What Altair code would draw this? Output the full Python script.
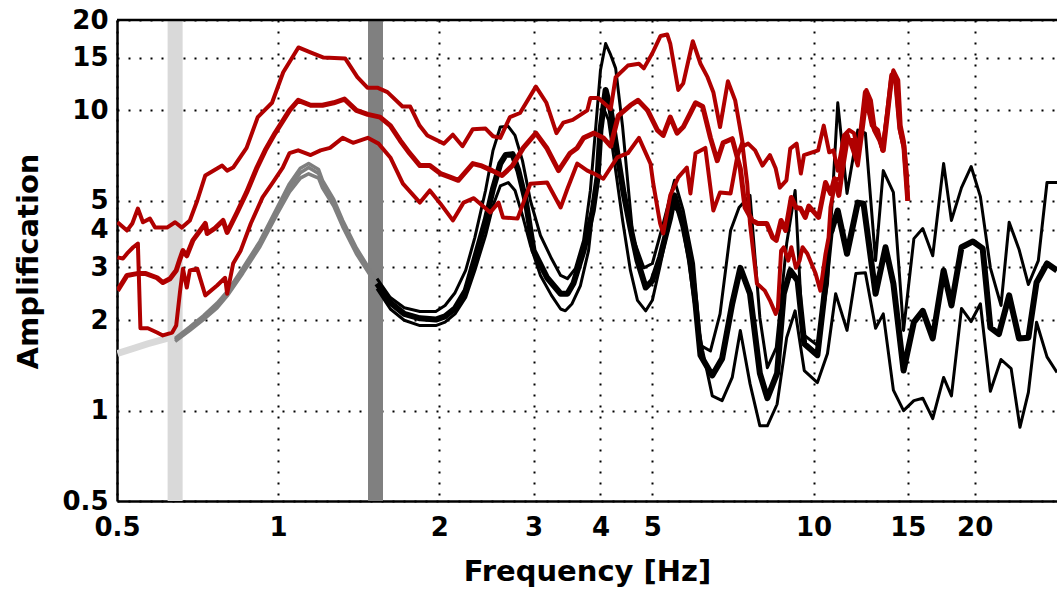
import altair as alt
import pandas as pd

X_TICKS = [0.5, 1, 2, 3, 4, 5, 10, 15, 20]
Y_TICKS = [0.5, 1, 2, 3, 4, 5, 10, 15, 20]
X_DOMAIN = [0.5, 28.5]
Y_DOMAIN = [0.5, 20]

BAND_F = [0.642, 1.52]

# light-gray theoretical curve (low frequencies)
LG_F = [0.501, 0.536, 0.571, 0.620, 0.645]
LG_A = [1.55, 1.61, 1.67, 1.74, 1.76]

# dark-gray theoretical curves
G_F = [0.642, 0.684, 0.725, 0.769, 0.803, 0.859, 0.925, 0.996, 1.05, 1.10, 1.14,
       1.19, 1.21, 1.27, 1.32, 1.40, 1.49, 1.53]
G_UP = [1.74, 1.90, 2.07, 2.28, 2.49, 2.98, 3.67, 4.75, 5.70, 6.42, 6.65,
        6.35, 5.85, 5.05, 4.30, 3.48, 2.91, 2.72]
G_MID = [1.72, 1.88, 2.04, 2.24, 2.45, 2.93, 3.60, 4.64, 5.53, 6.20, 6.45,
         6.16, 5.70, 4.93, 4.20, 3.41, 2.86, 2.67]
G_LO = [1.70, 1.85, 2.01, 2.20, 2.41, 2.87, 3.52, 4.52, 5.35, 5.95, 6.15,
        5.95, 5.52, 4.80, 4.10, 3.33, 2.80, 2.62]

# black curves
BU_F = [1.53, 1.62, 1.72, 1.84, 1.97, 2.05, 2.14, 2.24, 2.33, 2.44, 2.52, 2.60, 2.69,
        2.77, 2.86, 2.96, 3.09, 3.24, 3.37, 3.47, 3.59, 3.72, 3.83, 3.93, 4.00, 4.09,
        4.18, 4.27, 4.40, 4.60, 4.82, 5.00, 5.24, 5.50, 5.71, 5.97, 6.15, 6.42, 6.69,
        7.00, 7.26, 7.61, 7.94, 8.20, 8.52, 8.91, 9.24, 9.54, 10.17, 10.62, 11.1,
        11.55, 12.1, 12.5, 13.06, 13.5, 14.1, 14.73, 15.4, 16.0, 16.7, 17.5, 18.1,
        18.9, 19.7, 20.5, 21.4, 22.4, 23.2, 24.2, 25.2, 26.3, 27.3, 28.5]
BU_A = [2.75, 2.38, 2.20, 2.14, 2.14, 2.24, 2.47, 2.93, 3.77, 5.41, 7.36, 8.80, 8.85,
        8.25, 6.80, 5.00, 3.83, 3.21, 2.82, 2.75, 2.97, 3.69, 5.41, 9.30, 13.6, 16.7,
        15.3, 13.8, 8.80, 3.77, 2.99, 3.09, 4.20, 5.85, 4.64, 3.09, 1.65, 1.58, 2.10,
        3.98, 4.75, 5.21, 2.04, 1.39, 1.62, 3.60, 5.41, 1.80, 1.65, 2.65, 10.6,
        5.29, 8.60, 8.40, 3.16, 6.30, 5.33, 1.85, 3.74, 4.04, 3.28, 6.65, 4.30,
        5.53, 6.50, 5.16, 2.99, 2.24, 4.24, 3.45, 2.63, 3.16, 5.75, 5.75]

BM_F = [1.53, 1.62, 1.72, 1.84, 1.97, 2.05, 2.14, 2.24, 2.33, 2.44, 2.52, 2.60, 2.66,
        2.74, 2.81, 2.90, 3.00, 3.18, 3.37, 3.47, 3.56, 3.72, 3.87, 3.95, 4.00, 4.09,
        4.18, 4.30, 4.42, 4.55, 4.69, 4.86, 5.00, 5.17, 5.40, 5.50, 5.71, 5.89, 6.02,
        6.15, 6.47, 6.75, 7.05, 7.30, 7.61, 7.94, 8.20, 8.55, 8.80, 9.05, 9.34, 9.61,
        10.17, 10.45, 10.76, 11.1, 11.55, 12.1, 12.4, 13.06, 13.63, 14.1, 14.73, 15.4,
        16.0, 16.7, 17.5, 18.1, 18.9, 19.85, 20.7, 21.4, 22.2, 23.2, 24.2, 25.2, 26.1,
        27.3, 28.5]
BM_A = [2.65, 2.29, 2.10, 2.03, 2.01, 2.06, 2.19, 2.51, 3.21, 4.30, 5.49, 6.65, 7.10,
        7.15, 6.30, 5.00, 3.41, 2.77, 2.45, 2.45, 2.65, 3.41, 4.64, 5.98, 8.60, 11.7,
        10.0, 7.20, 5.29, 4.07, 3.16, 2.57, 2.71, 3.24, 4.40, 5.21, 4.13, 3.16, 2.27,
        1.53, 1.31, 1.49, 2.27, 2.99, 2.45, 1.33, 1.10, 1.33, 2.45, 2.93, 2.71, 1.67,
        1.53, 2.33, 3.89, 4.64, 3.33, 4.93, 4.89, 2.45, 3.50, 2.65, 1.36, 1.97,
        2.15, 1.74, 2.93, 2.24, 3.50, 3.66, 3.47, 1.89, 1.80, 2.42, 1.74, 1.75, 2.67,
        3.09, 2.93]

BL_F = [1.53, 1.62, 1.72, 1.84, 1.97, 2.05, 2.14, 2.24, 2.33, 2.44, 2.52, 2.60, 2.69,
        2.77, 2.86, 2.96, 3.09, 3.24, 3.37, 3.44, 3.54, 3.67, 3.80, 3.91, 4.00, 4.05,
        4.14, 4.27, 4.40, 4.55, 4.69, 4.86, 5.00, 5.17, 5.36, 5.48, 5.65, 5.84, 6.02,
        6.21, 6.47, 6.75, 7.05, 7.30, 7.61, 7.94, 8.20, 8.55, 8.91, 9.24, 9.61, 10.17,
        10.62, 11.0, 11.55, 12.0, 12.5, 13.06, 13.5, 14.1, 14.73, 15.4, 16.0, 16.7,
        17.5, 18.1, 18.9, 19.7, 20.5, 21.4, 22.4, 23.4, 24.3, 25.2, 26.1, 27.3, 28.5]
BL_A = [2.55, 2.18, 2.00, 1.92, 1.92, 1.97, 2.10, 2.38, 2.93, 3.83, 4.82, 5.60, 5.75,
        5.41, 4.47, 3.55, 2.82, 2.42, 2.18, 2.15, 2.27, 2.61, 3.41, 5.41, 7.94, 10.2,
        9.30, 6.30, 4.30, 2.93, 2.33, 2.15, 2.33, 3.04, 4.13, 4.82, 4.47, 3.16, 2.15,
        1.58, 1.12, 1.08, 1.29, 1.85, 1.23, 0.89, 0.89, 1.05, 1.75, 2.15, 1.36, 1.24,
        1.55, 2.45, 1.85, 2.86, 2.88, 1.88, 2.10, 1.17, 1.00, 1.08, 1.10, 0.94,
        1.29, 1.12, 2.19, 1.98, 2.27, 1.16, 1.48, 1.38, 0.88, 1.15, 1.97, 1.51, 1.34]

# red measured curves
R1_F = [0.501, 0.522, 0.534, 0.547, 0.559, 0.576, 0.589, 0.620, 0.642, 0.661, 0.684,
        0.706, 0.731, 0.786, 0.803, 0.824, 0.873, 0.916, 0.974, 1.022, 1.091, 1.149,
        1.216, 1.334, 1.406, 1.468, 1.532, 1.60, 1.707, 1.765, 1.837, 1.90, 2.04,
        2.12, 2.21, 2.31, 2.44, 2.52, 2.60, 2.71, 2.83, 3.03, 3.17, 3.31, 3.41, 3.55,
        3.78, 3.83, 3.96, 4.18, 4.27, 4.50, 4.72, 4.82, 5.00, 5.18, 5.33, 5.40, 5.59,
        5.71, 5.95, 6.15, 6.34, 6.50, 6.69, 6.92, 7.14, 7.39, 7.55, 7.78, 8.03, 8.29,
        8.50, 8.65, 8.90, 9.05, 9.30, 9.47, 9.60, 10.2, 10.45, 10.7, 10.9, 11.1, 11.4,
        11.65, 11.9, 12.1, 12.35, 12.55, 12.8, 13.0, 13.2, 13.45, 13.7, 13.95, 14.1,
        14.4, 14.55, 14.75, 14.95, 15.0]
R1_A = [4.24, 3.98, 4.20, 4.71, 4.24, 4.36, 4.07, 4.07, 4.24, 4.07, 4.30,
        5.00, 6.07, 6.55, 6.30, 6.45, 7.50, 9.50, 10.6, 13.4, 16.2, 15.6,
        15.0, 14.9, 12.9, 11.9, 11.9, 11.5, 10.3, 10.3, 8.90, 8.25, 7.75,
        8.30, 7.60, 8.66, 8.70, 8.20, 8.10, 9.50, 9.80, 12.0, 10.6, 8.40, 9.10, 9.30,
        10.0, 11.0, 11.0, 10.1, 12.9, 14.1, 14.3, 13.8, 15.5, 17.7, 17.9, 16.7, 11.7,
        12.3, 17.0, 14.3, 12.9, 11.5, 8.80, 12.5, 10.8, 7.60, 7.75, 7.36, 6.55, 7.10,
        6.40, 5.53, 5.85, 7.46, 7.75, 6.16, 7.10, 7.36, 8.90, 7.25, 7.36, 6.30, 8.25,
        8.60, 8.40, 7.36, 9.30, 11.7, 10.8, 8.80, 8.60, 7.36, 9.60, 12.6, 13.6,
        12.6, 8.90, 7.90, 6.07, 5.00]

R2_F = [0.501, 0.522, 0.545, 0.566, 0.594, 0.609, 0.628, 0.645, 0.656, 0.664, 0.675,
        0.693, 0.731, 0.737, 0.762, 0.789, 0.803, 0.838, 0.873, 0.913, 0.946, 0.987,
        1.05, 1.09, 1.15, 1.21, 1.27, 1.33, 1.40, 1.47, 1.55, 1.62, 1.69, 1.76, 1.84,
        1.92, 2.01, 2.10, 2.17, 2.31, 2.39, 2.51, 2.62, 2.74, 2.87, 3.03, 3.18, 3.34,
        3.51, 3.62, 3.72, 3.89, 4.05, 4.18, 4.32, 4.55, 4.70, 4.90, 5.11, 5.24, 5.40,
        5.56, 5.71, 5.89, 6.02, 6.21, 6.42, 6.61, 6.78, 7.05, 7.30, 7.45, 7.68, 7.87,
        8.18, 8.39, 8.52, 8.70, 8.87, 9.09, 9.27, 9.46, 9.65, 9.80, 10.22, 10.53,
        10.76, 10.95, 11.15, 11.35, 11.55, 11.85, 12.1, 12.3, 12.5, 12.7, 13.0, 13.3,
        13.5, 13.75, 14.0, 14.23, 14.5, 14.75, 15.0]
R2_A = [2.51, 2.82, 2.86, 2.86, 2.77, 2.67, 2.75, 2.93, 3.21, 3.41, 3.28,
        3.69, 4.20, 3.89, 4.05, 4.30, 3.92, 4.57, 5.33, 6.45, 7.36, 8.40,
        10.0, 10.8, 10.4, 10.4, 10.6, 10.9, 10.0, 9.70, 9.50, 8.90, 7.94, 7.20, 6.55,
        6.55, 6.16, 5.98, 5.85, 6.65, 6.55, 6.30, 6.07, 6.55, 7.50, 8.40, 7.46, 6.30,
        7.20, 7.50, 8.10, 8.40, 8.10, 7.60, 9.60, 10.4, 10.8, 10.0, 8.60, 8.25, 9.50,
        8.40, 8.80, 9.80, 10.6, 10.3, 8.10, 6.80, 7.80, 8.05, 6.40, 4.75, 4.30, 4.20,
        4.20, 3.77, 3.69, 4.30, 3.98, 5.13, 4.75, 4.71, 4.40, 4.80, 4.40, 5.75,
        5.29, 5.92, 5.21, 6.55, 7.94, 7.94, 7.10, 8.90, 11.5, 10.0, 8.60, 7.94,
        7.36, 9.80, 13.1, 12.8, 8.70, 7.60, 5.00]

R3_F = [0.501, 0.513, 0.524, 0.536, 0.547, 0.553, 0.571, 0.594, 0.609, 0.634, 0.645,
        0.656, 0.664, 0.675, 0.684, 0.706, 0.731, 0.769, 0.796, 0.803, 0.824, 0.851,
        0.889, 0.935, 0.974, 1.02, 1.05, 1.09, 1.15, 1.20, 1.25, 1.32, 1.38, 1.47,
        1.54, 1.62, 1.71, 1.84, 1.92, 2.01, 2.12, 2.22, 2.32, 2.43, 2.49, 2.58, 2.63,
        2.80, 2.96, 3.18, 3.37, 3.47, 3.62, 3.78, 3.89, 4.05, 4.30, 4.50, 4.72, 4.96,
        5.02, 5.17, 5.24, 5.40, 5.59, 5.80, 5.89, 6.02, 6.28, 6.50, 6.69, 7.00, 7.20,
        7.36, 7.52, 7.61, 7.84, 8.11, 8.29, 8.50, 8.58, 8.70, 8.80, 8.97, 9.09, 9.27,
        9.42, 9.54, 9.74, 10.09, 10.3, 10.53, 10.67, 10.76, 11.0, 11.2, 11.35, 11.55,
        11.85, 12.1, 12.35, 12.55, 12.85, 13.2, 13.45, 13.7, 14.0, 14.2, 14.5, 14.75,
        15.0]
R3_A = [3.24, 3.21, 3.36, 3.50, 3.60, 1.88, 1.88, 1.82, 1.78, 1.82, 1.92,
        2.51, 2.97, 2.57, 2.93, 2.97, 2.42, 2.61, 2.77, 2.45, 3.09, 3.41,
        4.20, 5.13, 5.70, 6.45, 7.20, 7.36, 7.10, 7.36, 7.50, 8.10, 7.80, 8.10,
        7.75, 6.97, 5.70, 4.93, 5.41, 4.89, 4.30, 4.93, 5.10, 4.75, 4.57, 4.93, 4.40,
        4.36, 5.70, 5.75, 4.75, 5.48, 6.65, 6.30, 6.16, 5.92, 6.97, 7.20, 8.10, 6.65,
        5.70, 4.20, 3.89, 5.21, 5.98, 6.45, 5.29, 7.20, 7.50, 4.64, 5.33, 5.29, 6.97,
        7.80, 5.70, 4.20, 2.65, 2.51, 2.33, 2.10, 2.20, 3.41, 3.50, 3.16, 3.50, 2.99,
        3.16, 3.50, 3.33, 2.86, 2.51, 3.33, 3.77, 4.75, 5.85, 5.98, 7.94, 8.40,
        7.36, 6.55, 8.60, 10.8, 8.90, 8.40, 7.36, 9.40, 12.8, 13.1, 8.60, 7.46,
        5.00]

SERIES = [
    ("light", LG_F, LG_A), ("g_up", G_F, G_UP), ("g_mid", G_F, G_MID), ("g_lo", G_F, G_LO),
    ("b_up", BU_F, BU_A), ("b_lo", BL_F, BL_A), ("b_mid", BM_F, BM_A),
    ("r1", R1_F, R1_A), ("r3", R3_F, R3_A), ("r2", R2_F, R2_A),
]
STYLE = {
    "light": ("#d9d9d9", 7), "g_up": ("#7f7f7f", 3.5), "g_mid": ("#7f7f7f", 3.5), "g_lo": ("#7f7f7f", 3.5),
    "b_up": ("#000000", 3), "b_lo": ("#000000", 3), "b_mid": ("#000000", 6),
    "r1": ("#b00000", 4), "r3": ("#b00000", 4), "r2": ("#b00000", 5),
}
BAND_STYLE = ["#d9d9d9", "#808080"]

frames = []
for name, fs, amps in SERIES:
    frames.append(pd.DataFrame({"f": fs, "a": amps, "s": name, "i": list(range(len(fs)))}))
df = pd.concat(frames, ignore_index=True)

FONT = "DejaVu Sans"
x_axis = alt.Axis(values=X_TICKS, format="~g", grid=True, gridColor="black", gridDash=[2, 9],
                  gridWidth=2, gridOpacity=1, ticks=False, tickSize=0, labelPadding=13,
                  labelFont=FONT, labelFontSize=26, labelFontWeight="bold", labelColor="black",
                  labelFlush=False, labelOverlap=False, domainColor="black", domainWidth=2.5,
                  title="Frequency [Hz]", titleFont=FONT, titleFontSize=29, titleFontWeight="bold",
                  titleColor="black", titleBaseline="alphabetic", titleY=79)
y_axis = alt.Axis(values=Y_TICKS, format="~g", grid=True, gridColor="black", gridDash=[2, 9],
                  gridWidth=2, gridOpacity=1, ticks=False, tickSize=0, labelPadding=9,
                  labelFont=FONT, labelFontSize=26, labelFontWeight="bold", labelColor="black",
                  labelFlush=False, labelOverlap=False, domainColor="black", domainWidth=2.5,
                  title="Amplification", titleFont=FONT, titleFontSize=29, titleFontWeight="bold",
                  titleColor="black", titleAngle=270, titleBaseline="alphabetic", titleAlign="center",
                  titleX=-80, titleY=241)

xs = alt.Scale(type="log", domain=X_DOMAIN, nice=False)
ys = alt.Scale(type="log", domain=Y_DOMAIN, nice=False)

bands_df = pd.DataFrame({"f": BAND_F, "k": ["a", "b"]})
layers = []
for k, col in zip(["a", "b"], BAND_STYLE):
    layers.append(
        alt.Chart(bands_df).transform_filter(alt.datum.k == k)
        .mark_rule(color=col, strokeWidth=15)
        .encode(x=alt.X("f:Q", scale=xs, axis=x_axis))
    )

base = alt.Chart(df).encode(
    x=alt.X("f:Q", scale=xs, axis=x_axis),
    y=alt.Y("a:Q", scale=ys, axis=y_axis),
    order=alt.Order("i:Q"),
)
for name, _, _ in SERIES:
    col, w = STYLE[name]
    layers.append(
        base.transform_filter(alt.datum.s == name)
        .mark_line(color=col, strokeWidth=w, clip=True, strokeJoin="round")
    )

top = alt.Chart(pd.DataFrame({"z": [0]})).mark_rule(color="black", strokeWidth=2.5).encode(
    x=alt.value(0), x2=alt.value(940), y=alt.value(0)
)
layers.append(top)

chart = alt.layer(*layers).properties(
    width=940, height=481,
    padding={"left": 117, "top": 20, "right": 0, "bottom": 88},
    autosize=alt.AutoSizeParams(type="none"),
).configure_view(stroke=None).configure(background="white")

chart.save("out.html", embed_options={"renderer": "svg", "actions": False})
